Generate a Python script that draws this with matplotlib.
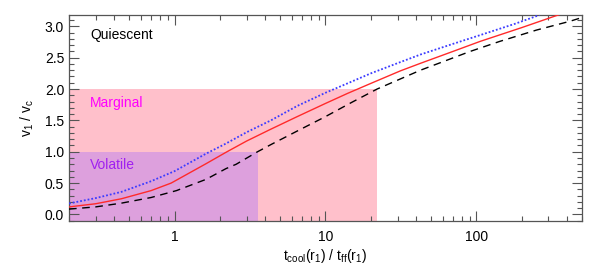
import numpy as np
import matplotlib
matplotlib.use('Agg')
import matplotlib.pyplot as plt
from matplotlib.ticker import MultipleLocator, FixedLocator, LogLocator, NullFormatter

plt.rcParams['font.family'] = ['Liberation Sans', 'DejaVu Sans']
plt.rcParams['mathtext.default'] = 'regular'

# curves: t_cool/t_ff vs v1/vc
x_dashed = [0.2, 0.3, 0.445, 0.7, 1.03, 1.62, 2.19, 2.56, 3.55, 4.4, 6.5, 10,
            15, 22, 42.6, 91, 143, 250, 416, 500]
y_dashed = [0.085, 0.12, 0.18, 0.27, 0.38, 0.56, 0.73, 0.80, 1.0, 1.12, 1.33, 1.56,
            1.79, 2.0, 2.3, 2.6, 2.76, 2.94, 3.08, 3.14]

x_red = [0.2, 0.3, 0.445, 0.7, 0.95, 1.62, 2.19, 3, 4.35, 6.5, 10, 14, 20,
         31.4, 42.6, 70, 106, 200, 357]
y_red = [0.12, 0.17, 0.25, 0.38, 0.50, 0.81, 0.99, 1.17, 1.36, 1.56, 1.77, 1.93, 2.09,
         2.29, 2.41, 2.6, 2.76, 2.98, 3.19]

x_blue = [0.2, 0.3, 0.445, 0.7, 1.0, 1.62, 2.19, 3, 4.35, 6.5, 10, 14, 20,
          31.4, 42.6, 70, 106, 180, 262]
y_blue = [0.175, 0.26, 0.36, 0.53, 0.69, 0.97, 1.13, 1.31, 1.50, 1.73, 1.94, 2.09, 2.25,
          2.43, 2.55, 2.72, 2.86, 3.04, 3.18]

# shaded regimes
region_names = ['Marginal', 'Volatile']
region_xmax = [22, 3.55]
region_ymax = [2.0, 1.0]
region_colors = ['#FFC0CB', '#DDA0DD']
label_colors = ['#FF00FF', '#A020F0']
label_y = [1.78, 0.79]

xmin, xmax = 0.2, 500
ymin, ymax = -0.1, 3.18

fig = plt.figure(figsize=(5.98, 2.67), dpi=100)
ax = fig.add_axes([0.1154, 0.1734, 0.8578, 0.7704])

for name, xr, yr, c, lc, ly in zip(region_names, region_xmax, region_ymax,
                                   region_colors, label_colors, label_y):
    ax.fill_between([xmin, xr], ymin, yr, color=c, lw=0, zorder=1)
    ax.text(0.277, ly, name, color=lc, fontsize=10, va='center', zorder=5)

ax.text(0.277, 2.86, 'Quiescent', color='black', fontsize=10, va='center', zorder=5)

ax.plot(x_blue, y_blue, color='#3c3cff', lw=1.3, linestyle=(0, (1, 1.1)), zorder=3)
ax.plot(x_red, y_red, color='#ff2a2a', lw=1.0, zorder=3)
ax.plot(x_dashed, y_dashed, color='black', lw=1.0, linestyle=(0, (5.5, 4)), zorder=3)

ax.set_xscale('log')
ax.set_xlim(xmin, xmax)
ax.set_ylim(ymin, ymax)

ax.set_xticks([1, 10, 100])
ax.set_xticklabels(['1', '10', '100'])
ax.xaxis.set_minor_locator(LogLocator(base=10, subs=np.arange(2, 10)))
ax.xaxis.set_minor_formatter(NullFormatter())
ax.yaxis.set_major_locator(FixedLocator([0, 0.5, 1.0, 1.5, 2.0, 2.5, 3.0]))
ax.set_yticklabels(['0.0', '0.5', '1.0', '1.5', '2.0', '2.5', '3.0'])
ax.yaxis.set_minor_locator(MultipleLocator(0.1))

ax.tick_params(which='both', direction='in', top=True, right=True,
               color='#555555', width=0.8, labelsize=10)
ax.tick_params(which='major', length=7)
ax.tick_params(which='minor', length=3.5)
ax.tick_params(axis='x', pad=7)
for s in ax.spines.values():
    s.set_color('#555555')
    s.set_linewidth(0.9)

ax.set_xlabel('$t_{cool}(r_1)$ / $t_{ff}(r_1)$', fontsize=10, labelpad=2)
ax.set_ylabel('$v_1$ / $v_c$', fontsize=10, labelpad=6)

fig.savefig('out.png', dpi=100)
